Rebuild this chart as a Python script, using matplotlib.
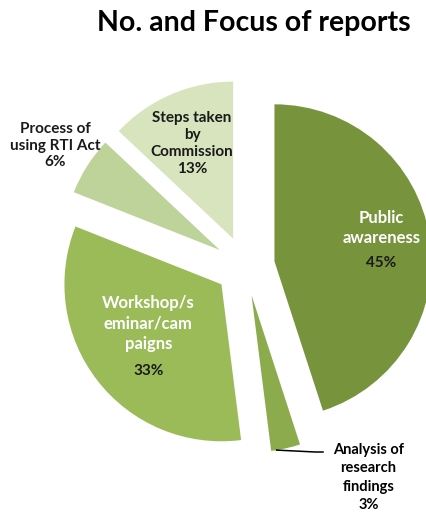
import math
import matplotlib
matplotlib.use('Agg')
import matplotlib.pyplot as plt

plt.rcParams['font.family'] = ['Lato', 'DejaVu Sans']

# data
names = ['Public\nawareness', 'Analysis of\nresearch\nfindings', 'Workshop/s\neminar/cam\npaigns',
         'Process of\nusing RTI Act', 'Steps taken\nby\nCommission']
shares = [45, 3, 33, 6, 13]
colors = ['#77933C', '#8CAB4C', '#9BBB59', '#BDD39A', '#D7E4BD']
name_colors = ['white', 'black', 'white', 'black', 'black']

W, H = 427, 517
fig = plt.figure(figsize=(W / 100, H / 100), dpi=100)
ax = fig.add_axes([0, 0, 1, 1])

# pie centre at pixel (245, 266), radius 157 px
R = 157.0
cx, cy = 245.0, 266.0

wedges, _ = ax.pie(shares, colors=colors, startangle=90, counterclock=False,
                   explode=[0.19] * 5, radius=1, center=(0, 0),
                   wedgeprops=dict(linewidth=0), frame=True)
ax.set_xlim(-cx / R, (W - cx) / R)
ax.set_ylim(-(H - cy) / R, cy / R)
ax.set_aspect('auto')
ax.axis('off')

# label distance from each exploded apex (in radii)
dist = [0.69, None, 0.59, 1.24, 0.66]
sizes = [12, 10.5, 12, 11, 11]

for i, w in enumerate(wedges):
    ang = math.radians((w.theta1 + w.theta2) / 2)
    ox, oy = w.center
    pct = '%d%%' % shares[i]
    if dist[i] is None:
        # outside label with leader line
        tipx = ox + 1.0 * math.cos(math.radians(w.theta1 + 2))
        tipy = oy + 1.0 * math.sin(math.radians(w.theta1 + 2))
        lx, ly = (323 - cx) / R, (cy - 452) / R
        ax.plot([tipx, lx - 0.05, lx], [tipy, ly, ly], color='black', lw=1.1)
        ax.text(lx + 0.29, ly + 0.06, names[i] + '\n' + pct, ha='center', va='top',
                fontsize=sizes[i], fontweight='bold', color='black', linespacing=1.42)
        continue
    tx = ox + dist[i] * math.cos(ang)
    ty = oy + dist[i] * math.sin(ang)
    if name_colors[i] == 'white':
        nlines = names[i].count('\n') + 1
        step = sizes[i] * 1.38 / 72 * 100 / R
        top = ty + (nlines + 1) * step / 2
        ax.text(tx, top, names[i], ha='center', va='top', fontsize=sizes[i],
                fontweight='bold', color='white', linespacing=1.35)
        ax.text(tx, top - nlines * step, pct, ha='center', va='top', fontsize=sizes[i] - 1,
                fontweight='bold', color='#1a1a1a')
    else:
        ax.text(tx, ty, names[i] + '\n' + pct, ha='center', va='center', fontsize=sizes[i],
                fontweight='bold', color='#1a1a1a', linespacing=1.25)

fig.text(254 / W, 1 - 23 / H, 'No. and Focus of reports', ha='center', va='center',
         fontsize=20.5, fontweight='bold', color='black')

fig.savefig('out.png', dpi=100)
